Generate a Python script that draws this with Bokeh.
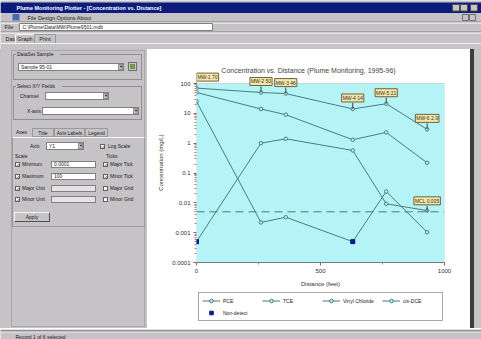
from bokeh.plotting import figure
from bokeh.models import (Range1d, FixedTicker, Span, Label, Legend, LegendItem, GridBox,
                          BoxAnnotation, Div)
from bokeh.embed import file_html
from bokeh.resources import INLINE
from bokeh.core.properties import value

# ---------------- data ----------------
distance_ft = [0, 260, 360, 630, 765, 930]
pce = [70, 50, 46, 14, 21, 2.9]
tce = [50, 14, 9, 1.3, 2.3, 0.22]
vinyl_chloride = [0.0005, 1.0, 1.4, 0.57, 0.0093, 0.0055]
cis_dce = [25, 0.0022, 0.0033, 0.0005, 0.024, 0.00104]
nondetect_x = [0, 630]
nondetect_y = [0.0005, 0.0005]
mcl_value = 0.005
well_names = ["MW-1", "MW-2", "MW-3", "MW-4", "MW-5", "MW-6"]
series_names = ["PCE", "TCE", "Vinyl Chloride", "cis-DCE"]
x_ticks = [0, 500, 1000]
x_minor_ticks = [250, 750]
y_ticks = [0.0001, 0.001, 0.01, 0.1, 1, 10, 100]
y_tick_labels = ["0.0001", "0.001", "0.01", "0.1", "1", "10", "100"]
chart_title = "Concentration vs. Distance (Plume Monitoring, 1995-96)"

# ---------------- styles ----------------
GRAY = "#c6c3c6"
DARK = "#808080"
TXT = "#1a1a1a"
FONT = "Liberation Sans"
LINE = "#4b7b7e"
CYAN = "#b4f4f7"
NAVY = "#0a1a8a"


# ---------- helpers for the window chrome drawn with figures ----------
def deco(x0, x1, y0, y1, fill=GRAY):
    f = figure(width=x1 - x0, height=y1 - y0, x_range=Range1d(x0, x1), y_range=Range1d(y1, y0),
               x_axis_type=None, y_axis_type=None, toolbar_location=None, output_backend="svg",
               min_border=0, outline_line_color=None, background_fill_color=fill,
               border_fill_color=fill)
    return f


def box(f, x0, x1, y0, y1, fill="white", line=DARK):
    f.quad(left=[x0], right=[x1], top=[y0], bottom=[y1], fill_color=fill,
           line_color=line, line_width=1)


def hline(f, x0, x1, y, color=DARK):
    f.line([x0, x1], [y, y], line_color=color, line_width=1)


def txt(f, x, y, s, size="5.5px", align="left", color=TXT, font=FONT, style="normal"):
    f.text(x=[x], y=[y], text=[s], text_font_size=size, text_align=align,
           text_baseline="middle", text_color=color, text_font=value(font),
           text_font_style=style)


# ---------- helpers for the left panel drawn as HTML ----------
Y0 = 49


def el(x, y, w, h, style="", content=""):
    return (f'<div style="position:absolute;left:{x}px;top:{y - Y0}px;width:{w}px;height:{h}px;'
            f'box-sizing:border-box;white-space:nowrap;overflow:hidden;{style}">{content}</div>')


def lab(x, yc, s, align="left", w=60):
    left = x if align == "left" else x - w / 2
    return el(left, yc - 4, w, 8, f"font-size:5px;line-height:8px;text-align:{align};", s)


def frame_(x0, y0, x1, y1, color="#8f8f8f", extra=""):
    return el(x0, y0, x1 - x0, y1 - y0, f"border:1px solid {color};{extra}")


def field(x0, y0, x1, y1, s="", bg="white"):
    return el(x0, y0, x1 - x0, y1 - y0,
              f"background:{bg};border:1px solid #808080;font-size:5px;"
              f"line-height:{y1 - y0 - 2}px;padding-left:2px;", s)


def combo(x0, y0, x1, y1, s=""):
    return (field(x0, y0, x1, y1, s)
            + el(x1 - 6, y0 + 1, 5, y1 - y0 - 2,
                 f"background:{GRAY};border:1px solid #909090;font-size:4px;"
                 f"line-height:{y1 - y0 - 4}px;text-align:center;", "\u25bc"))


def check(x, yc, on=True):
    return el(x, yc - 2.5, 5, 5,
              "background:white;border:1px solid #606060;font-size:5px;line-height:4px;"
              "text-align:center;font-family:'DejaVu Sans';", "\u2713" if on else "")


# ---------------- window top (title bar, menu, address, tabs) ----------------
T = deco(0, 481, 0, 49)
box(T, 0, 481, 2, 12.5, "#0d1c7c", None)
txt(T, 16, 7, "Plume Monitoring Plotter - [Concentration vs. Distance]", size="5.5px",
    color="white", style="bold")
for bx in (452, 460, 470):
    box(T, bx, bx + 7, 4, 10.5, GRAY, "#505050")
box(T, 12, 19, 13.5, 20, "#4a6aa8", None)
txt(T, 27, 17, "File   Design   Options   About")
box(T, 462, 468, 14, 20, GRAY, "#707070")
box(T, 469, 475, 14, 20, GRAY, "#707070")
hline(T, 0, 481, 21.5)
hline(T, 0, 481, 22.5, "white")
txt(T, 4, 26.5, "File")
box(T, 19, 212, 23, 30)
txt(T, 22, 26.5, "C:\\Plume\\Data\\MW\\Plume9501.mdb", size="5px")
hline(T, 0, 481, 31.5)
hline(T, 0, 481, 32.5, "white")
txt(T, 5, 38, "Data")
box(T, 15, 34, 34, 43, GRAY, "#f4f4f4")
box(T, 34, 55, 34, 43, GRAY, "#9a9a9a")
txt(T, 24.5, 38.5, "Graph", align="center")
txt(T, 44.5, 38.5, "Print", align="center")
hline(T, 0, 481, 43, "#f4f4f4")

# ---------------- left control panel (HTML) ----------------
parts = []
parts.append(frame_(11, 50, 145, 327, "#a9a6a9"))
parts.append(frame_(13, 54, 142, 80))
parts.append(el(16, 51, 44, 6, f"background:{GRAY};font-size:5px;line-height:6px;padding-left:1px;",
                "DataSet Sample"))
parts.append(combo(18, 63, 124, 71, "Sample 95-01"))
parts.append(el(128, 62, 9, 9, f"background:{GRAY};border:1px solid #707070;"))
parts.append(el(130, 64, 5, 5, "background:#6f9a4a;"))
parts.append(frame_(13, 86, 142, 120))
parts.append(el(16, 83, 46, 6, f"background:{GRAY};font-size:5px;line-height:6px;padding-left:1px;",
                "Select X/Y Fields"))
parts.append(lab(20, 96, "Channel"))
parts.append(combo(45, 92, 109, 100))
parts.append(lab(27, 111, "X-axis"))
parts.append(combo(42, 107, 139, 115))
parts.append(lab(16, 132, "Axes"))
for (a, b, s) in ((32, 54, "Title"), (54, 85, "Axis Labels"), (85, 108, "Legend")):
    parts.append(frame_(a, 128, b, 137, "#9a9a9a"))
    parts.append(lab((a + b) / 2, 132.5, s, align="center", w=b - a))
parts.append(frame_(12, 137, 145, 227, "#9a9a9a", "border-top-color:#f4f4f4;"))
parts.append(lab(30, 146, "Axis"))
parts.append(combo(46, 142, 84, 150, "Y1"))
parts.append(check(100, 146))
parts.append(lab(108, 146, "Log Scale"))
parts.append(lab(15, 156, "Scale"))
parts.append(lab(106, 156, "Ticks"))
left_rows = [("Minimum", "0.0001", True), ("Maximum", "100", True),
             ("Major Unit", "", False), ("Minor Unit", "", False)]
right_rows = [("Major Tick", True), ("Minor Tick", True), ("Major Grid", False), ("Minor Grid", False)]
for i, yy in enumerate((164, 176, 188, 199)):
    name, val, enabled = left_rows[i]
    parts.append(check(15, yy))
    parts.append(lab(22, yy, name, w=28))
    parts.append(field(51, yy - 3.5, 96, yy + 3.5, val, "white" if enabled else "#e4e2e4"))
    rname, rchk = right_rows[i]
    parts.append(check(103, yy, rchk))
    parts.append(lab(110, yy, rname, w=34))
parts.append(el(14, 212, 36, 10, f"background:{GRAY};border:1px solid #505050;"
                "border-top-color:#f4f4f4;border-left-color:#f4f4f4;font-size:5px;"
                "line-height:8px;text-align:center;", "Apply"))
left_html = (f'<div style="position:relative;width:147px;height:279px;background:{GRAY};'
             f"font-family:'Liberation Sans',Arial,sans-serif;color:{TXT};overflow:hidden;\">"
             + "".join(parts) + "</div>")
L = Div(text=left_html, width=147, height=279, margin=0)

# ---------------- chart ----------------
y_top = y_ticks[-1] * 10 ** (21 / 29.83)   # head-room above the plotting box for callouts
C = figure(width=323, height=241, x_range=Range1d(0, 1000), y_range=Range1d(y_ticks[0], y_top),
           y_axis_type="log", toolbar_location=None, output_backend="svg", title=None,
           min_border_left=49, min_border_right=26, min_border_top=13, min_border_bottom=28,
           background_fill_color="white", border_fill_color="white",
           outline_line_color=None)
C.grid.visible = False
C.add_layout(BoxAnnotation(left=x_ticks[0], right=x_ticks[-1], bottom=y_ticks[0], top=y_ticks[-1],
                           fill_color=CYAN, fill_alpha=1, line_color="#8c8c8c", line_width=1,
                           level="underlay"))

C.xaxis.ticker = FixedTicker(ticks=x_ticks, minor_ticks=x_minor_ticks)
minor_y = [m * t for t in y_ticks[:-1] for m in range(2, 10)]
C.yaxis.ticker = FixedTicker(ticks=y_ticks, minor_ticks=minor_y)
C.yaxis.major_label_overrides = dict(zip(y_ticks, y_tick_labels))
C.xaxis.axis_label = "Distance (feet)"
C.yaxis.axis_label = "Concentration (mg/L)"
for ax in (C.xaxis, C.yaxis):
    ax.axis_line_color = "#7a7a7a"
    ax.major_tick_line_color = "#9a5a5a"
    ax.minor_tick_line_color = "#b08080"
    ax.major_tick_out = 3
    ax.major_tick_in = 0
    ax.minor_tick_out = 2
    ax.minor_tick_in = 0
    ax.major_label_text_font = FONT
    ax.major_label_text_font_size = "6px"
    ax.major_label_text_color = "#303030"
    ax.axis_label_text_font = FONT
    ax.axis_label_text_font_size = "6px"
    ax.axis_label_text_font_style = "normal"
    ax.axis_label_text_color = "#303030"
    ax.major_label_standoff = 3
    ax.axis_label_standoff = 5
C.yaxis.axis_line_color = None

C.add_layout(Span(location=mcl_value, dimension="width", line_color=LINE,
                  line_dash="8 5", line_width=1))

series = [pce, tce, vinyl_chloride, cis_dce]
for vals in series:
    C.line(distance_ft, vals, line_color=LINE, line_width=1)
    C.scatter(distance_ft, vals, marker="circle", size=3.5, fill_color=CYAN,
              line_color=LINE, line_width=1)
C.scatter(nondetect_x, nondetect_y, marker="square", size=4, fill_color=NAVY, line_color=NAVY)

# title (inside the head-room, as the original draws it)
C.add_layout(Label(x=112, y=192, x_units="screen", y_units="screen", text=chart_title,
                   text_align="center", text_baseline="middle", text_font=FONT,
                   text_font_size="7px", text_color="#454545"))

# callouts
C.segment(x0=distance_ft, y0=pce, x1=distance_ft, y1=[v * 1.6 for v in pce],
          line_color="#404040", line_width=1)
C.segment(x0=[distance_ft[-1]], y0=[mcl_value], x1=[distance_ft[-1]], y1=[mcl_value * 1.6],
          line_color="#404040", line_width=1)
callouts = [(x, y, f"{w} {y:g}") for x, y, w in zip(distance_ft, pce, well_names)]
callouts.append((distance_ft[-1], mcl_value, f"MCL {mcl_value:g}"))
for i, (x, y, s) in enumerate(callouts):
    C.add_layout(Label(x=x, y=y, text=s, text_align="center", text_baseline="bottom",
                       x_offset=11 if i == 0 else 0, y_offset=7, text_font=FONT,
                       text_font_size="5px", text_color="#303030",
                       background_fill_color="#f4e7a8", border_line_color="#706040",
                       padding=1))

# ---------------- legend box under the chart ----------------
G = figure(width=323, height=38, x_range=Range1d(0, 1000), y_range=Range1d(-2, -1),
           x_axis_type=None, y_axis_type=None, toolbar_location=None, output_backend="svg",
           min_border_left=49, min_border_right=26, min_border_top=0, min_border_bottom=0,
           background_fill_color="white", border_fill_color="white", outline_line_color=None)
items = []
for name, vals in zip(series_names, series):
    ln = G.line(distance_ft, vals, line_color=LINE, line_width=1)
    sc = G.scatter(distance_ft, vals, marker="circle", size=3.5, fill_color=CYAN,
                   line_color=LINE, line_width=1)
    items.append(LegendItem(label=name, renderers=[ln, sc]))
nd = G.scatter(nondetect_x, nondetect_y, marker="square", size=4, fill_color=NAVY, line_color=NAVY)
items.append(LegendItem(label="Non-detect", renderers=[nd]))
legend = Legend(items=items, orientation="horizontal", ncols=4, location="top_left",
                label_text_font=FONT, label_text_font_size="5px", label_text_color=TXT,
                glyph_width=18, glyph_height=9, label_height=9, label_width=36,
                label_standoff=3, spacing=3, padding=3, margin=2,
                border_line_color="#505050", background_fill_color="white",
                background_fill_alpha=1)
G.add_layout(legend)

# ---------------- right edge and status bar ----------------
R = Div(text=(f'<div style="position:relative;width:11px;height:279px;background:{GRAY};">'
              '<div style="position:absolute;left:0;top:0;width:4px;height:279px;'
              'background:#3c3c3c;"></div></div>'), width=11, height=279, margin=0)
S = deco(0, 481, 328, 339)
hline(S, 0, 481, 329.5, "#5a5a5a")
hline(S, 0, 481, 330.5, "#f0f0f0")
txt(S, 15, 335, "Record 1 of 6 selected", size="5px")

page = GridBox(children=[(T, 0, 0, 1, 3), (L, 1, 0, 2, 1), (C, 1, 1), (G, 2, 1),
                         (R, 1, 2, 2, 1), (S, 3, 0, 1, 3)], spacing=0)
open("out.html", "w").write(file_html(page, INLINE))
